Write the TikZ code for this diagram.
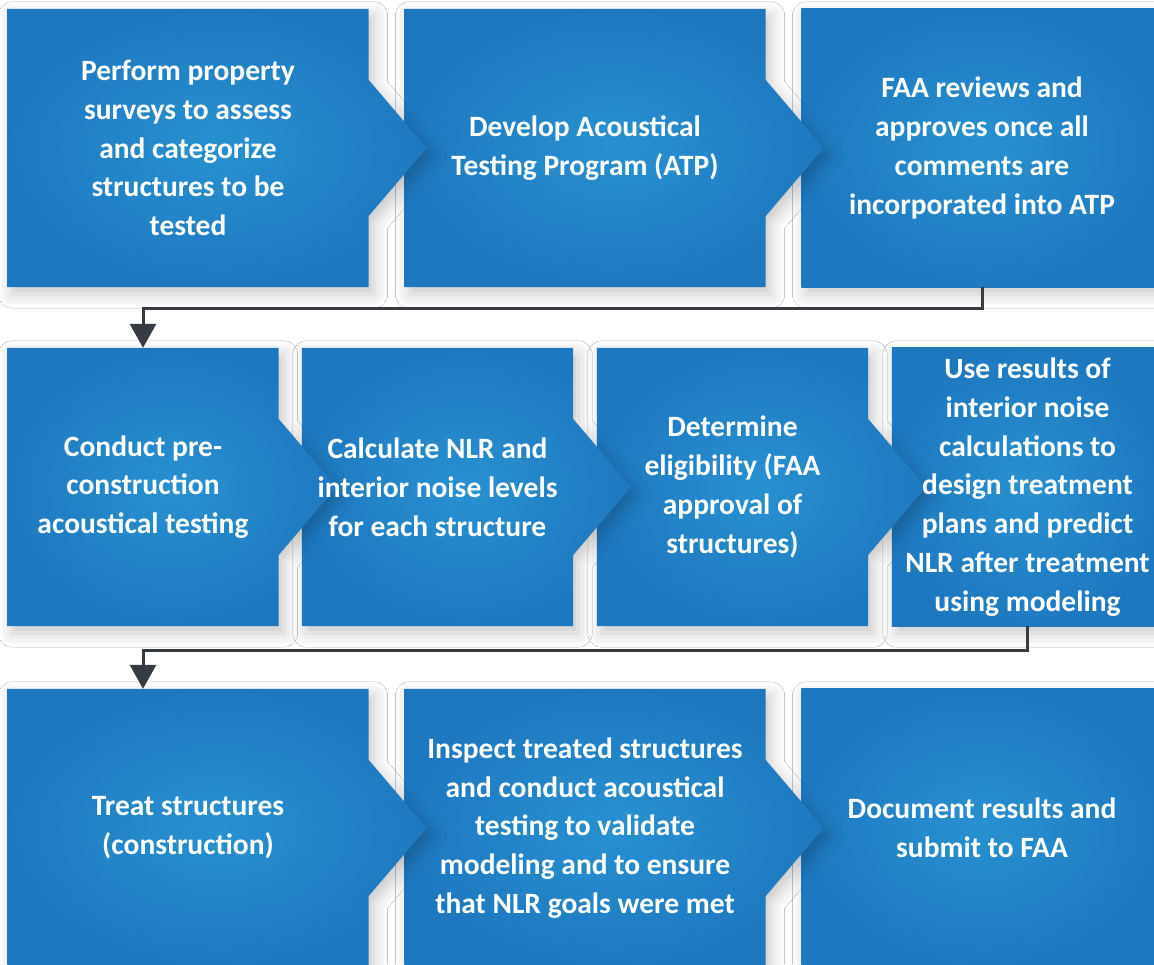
\documentclass[tikz,border=0pt]{standalone}
\usepackage{fontspec}
\setmainfont{Carlito}
\usetikzlibrary{arrows.meta, backgrounds, shadows.blur}

\definecolor{stageblue}{RGB}{30,120,192}
\definecolor{stagelight}{RGB}{40,145,208}
\definecolor{linkgray}{RGB}{55,60,66}

\tikzset{
	stage/.style={minimum height=278pt, inner sep=0pt, align=center, text=white,
		font=\bfseries\fontsize{29.5}{38.8}\selectfont},
	wide/.style={stage, minimum width=361pt},
	narrow/.style={stage, minimum width=271pt},
	stagefill/.style={inner color=stagelight, outer color=stageblue,
		blur shadow={shadow xshift=5pt, shadow yshift=-7pt, shadow blur radius=14pt, shadow opacity=22}},
	link/.style={draw=linkgray, line width=3pt, -{Triangle[width=26pt, length=24pt]}}
}

\begin{document}
\begin{tikzpicture}[x=1pt, y=1pt]
		\useasboundingbox (0,0) rectangle (1154,964);
		% first row
		\node[wide] (survey) at (188,816) {Perform property\\surveys to assess\\and categorize\\structures to be\\tested};
		\node[wide] (atp) at (585,816) {Develop Acoustical\\Testing Program (ATP)};
		\node[wide] (faa) at (982,816) {FAA reviews and\\approves once all\\comments are\\incorporated into ATP};
		% second row
		\node[narrow] (conduct) at (143,477) {Conduct pre-\\construction\\acoustical testing};
		\node[narrow] (calc) at (437.5,477) {Calculate NLR and\\interior noise levels\\for each structure};
		\node[narrow] (elig) at (732.5,477) {Determine\\eligibility (FAA\\approval of\\structures)};
		\node[narrow] (use) at (1027.5,477) {Use results of\\interior noise\\calculations to\\design treatment\\plans and predict\\NLR after treatment\\using modeling};
		% third row
		\node[wide] (treat) at (188,136) {Treat structures\\(construction)};
		\node[wide] (inspect) at (585,136) {Inspect treated structures\\and conduct acoustical\\testing to validate\\modeling and to ensure\\that NLR goals were met};
		\node[wide] (doc) at (982,136) {Document results and\\submit to FAA};

		\begin{scope}[on background layer]
			\fill[white] (0,0) rectangle (1154,964);
			% last box of each row is a plain rectangle
			\foreach \n in {faa, use, doc}
				\path[stagefill] (\n.north west) rectangle (\n.south east);
			% the others get a chevron, right to left so each tip lies over its neighbour
			\foreach \n in {atp, survey, elig, calc, conduct, inspect, treat}
				\path[stagefill] (\n.north west) -- (\n.north east) -- ([yshift=68pt]\n.east)
					-- ([xshift=58pt]\n.east) -- ([yshift=-68pt]\n.east) -- (\n.south east)
					-- (\n.south west) -- cycle;
		\end{scope}

		\draw[link] (faa.south) -- ++(0,-21) -| (conduct.north);
		\draw[link] (use.south) -- ++(0,-24) -| (conduct.south |- treat.north);
	\end{tikzpicture}
\end{document}
